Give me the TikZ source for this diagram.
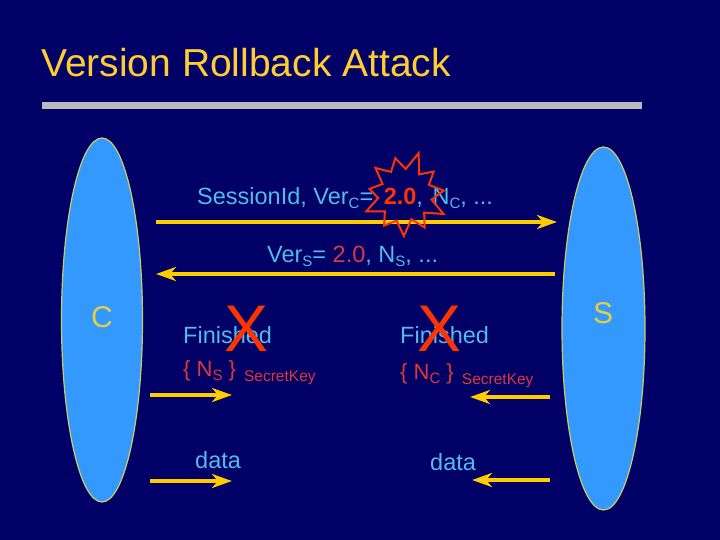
\documentclass[tikz,border=0pt]{standalone}
\usepackage{fontspec}
\setmainfont{Liberation Sans}
\usetikzlibrary{arrows.meta,shapes.geometric}
\definecolor{bgnavy}{RGB}{0,0,102}
\definecolor{bargray}{RGB}{185,185,190}
\definecolor{titlegold}{RGB}{255,204,51}
\definecolor{txtblue}{RGB}{80,188,235}
\definecolor{txtred}{RGB}{222,56,56}
\definecolor{burstred}{RGB}{255,51,0}
\definecolor{arrowgold}{RGB}{255,204,0}
\definecolor{ellfill}{RGB}{51,153,255}
\definecolor{ellborder}{RGB}{204,204,102}
\definecolor{lblyellow}{RGB}{228,208,60}
\newcommand{\lsub}[1]{\raisebox{-4pt}{\fontsize{15}{15}\selectfont #1}}
\begin{document}
\begin{tikzpicture}[x=1pt,y=-1pt,
  party/.style={ellipse, draw=ellborder, fill=ellfill, line width=1.2pt, inner sep=0pt},
  plabel/.style={text=lblyellow, font=\fontsize{30}{36}\selectfont, inner sep=0pt},
  flow/.style={draw=arrowgold, line width=4pt, -{Stealth[length=20pt,width=14pt,inset=6pt]}},
  msg/.style={text=txtblue, font=\fontsize{23.5}{28}\selectfont, anchor=base west, inner sep=0pt},
  keytxt/.style={text=txtred, font=\fontsize{22}{26}\selectfont, anchor=base west, inner sep=0pt},
  cross/.style={text=burstred, font=\fontsize{66}{70}\selectfont, inner sep=0pt},
  burst/.style={draw=burstred, line width=2pt, line join=miter}
]
\useasboundingbox (0,0) rectangle (720,540);
\fill[bgnavy] (0,0) rectangle (720,540);
% title
\node[text=titlegold, font=\fontsize{39}{46}\selectfont, anchor=base west, inner sep=0pt] (title) at (41,77) {Version Rollback Attack};
\fill[bargray] (42,102) rectangle (642,109);
% parties
\node[party, minimum width=81pt, minimum height=364pt] (C) at (102,320) {};
\node[party, minimum width=83pt, minimum height=363pt] (S) at (603.5,328.5) {};
\node[plabel] (Clbl) at (102,317) {C};
\node[plabel] (Slbl) at (603,313) {S};
% connector endpoints
\coordinate (a1s) at (156,222); \coordinate (a1e) at (557,222);
\coordinate (a2s) at (555,274); \coordinate (a2e) at (156,274);
\coordinate (a3s) at (150,395); \coordinate (a3e) at (232,395);
\coordinate (a4s) at (550,397); \coordinate (a4e) at (470,397);
\coordinate (a5s) at (150,481); \coordinate (a5e) at (232,481);
\coordinate (a6s) at (550,480); \coordinate (a6e) at (472,480);
\draw[flow] (a1s) -- (a1e);
\draw[flow] (a2s) -- (a2e);
\draw[flow] (a3s) -- (a3e);
\draw[flow] (a4s) -- (a4e);
\draw[flow] (a5s) -- (a5e);
\draw[flow] (a6s) -- (a6e);
% messages
\node[msg] (m1) at (197,205) {SessionId, Ver\lsub{C}= \hspace{4pt}{\bfseries\color{burstred}2.0}, \hspace{3pt}N\lsub{C}, ...};
\node[msg] (m2) at (267,262) {Ver\lsub{S}= {\color{txtred}2.0}, N\lsub{S}, ...};
\node[msg] (f1) at (183,343) {Finished};
\node[msg] (f2) at (400,343) {Finished};
\node[keytxt] (k1) at (183,376) {\{ N\lsub{S} \} \hspace{2pt}\raisebox{-5pt}{\fontsize{15.5}{18}\selectfont SecretKey}};
\node[keytxt] (k2) at (400,379) {\{ N\lsub{C} \} \hspace{2pt}\raisebox{-5pt}{\fontsize{15.5}{18}\selectfont SecretKey}};
\node[msg] (d1) at (195,468) {data};
\node[msg] (d2) at (430,470) {data};
% burst
\begin{scope}[shift={(405,195)}, yscale=-1]
\draw[burst] (72:44) -- (88.4:26) -- (104.7:38) -- (121.1:27) -- (137.5:40) -- (153.8:25) -- (170.2:36) -- (186.5:27) -- (202.9:42) -- (219.3:26) -- (235.6:37) -- (252:27) -- (268.4:41) -- (284.7:25) -- (301.1:38) -- (317.5:26) -- (333.8:43) -- (350.2:27) -- (6.5:39) -- (22.9:26) -- (39.3:37) -- (55.6:25) -- cycle;
\end{scope}
% crosses
\node[cross] (x1) at (247,329) {X};
\node[cross] (x2) at (440,329) {X};
\end{tikzpicture}
\end{document}
